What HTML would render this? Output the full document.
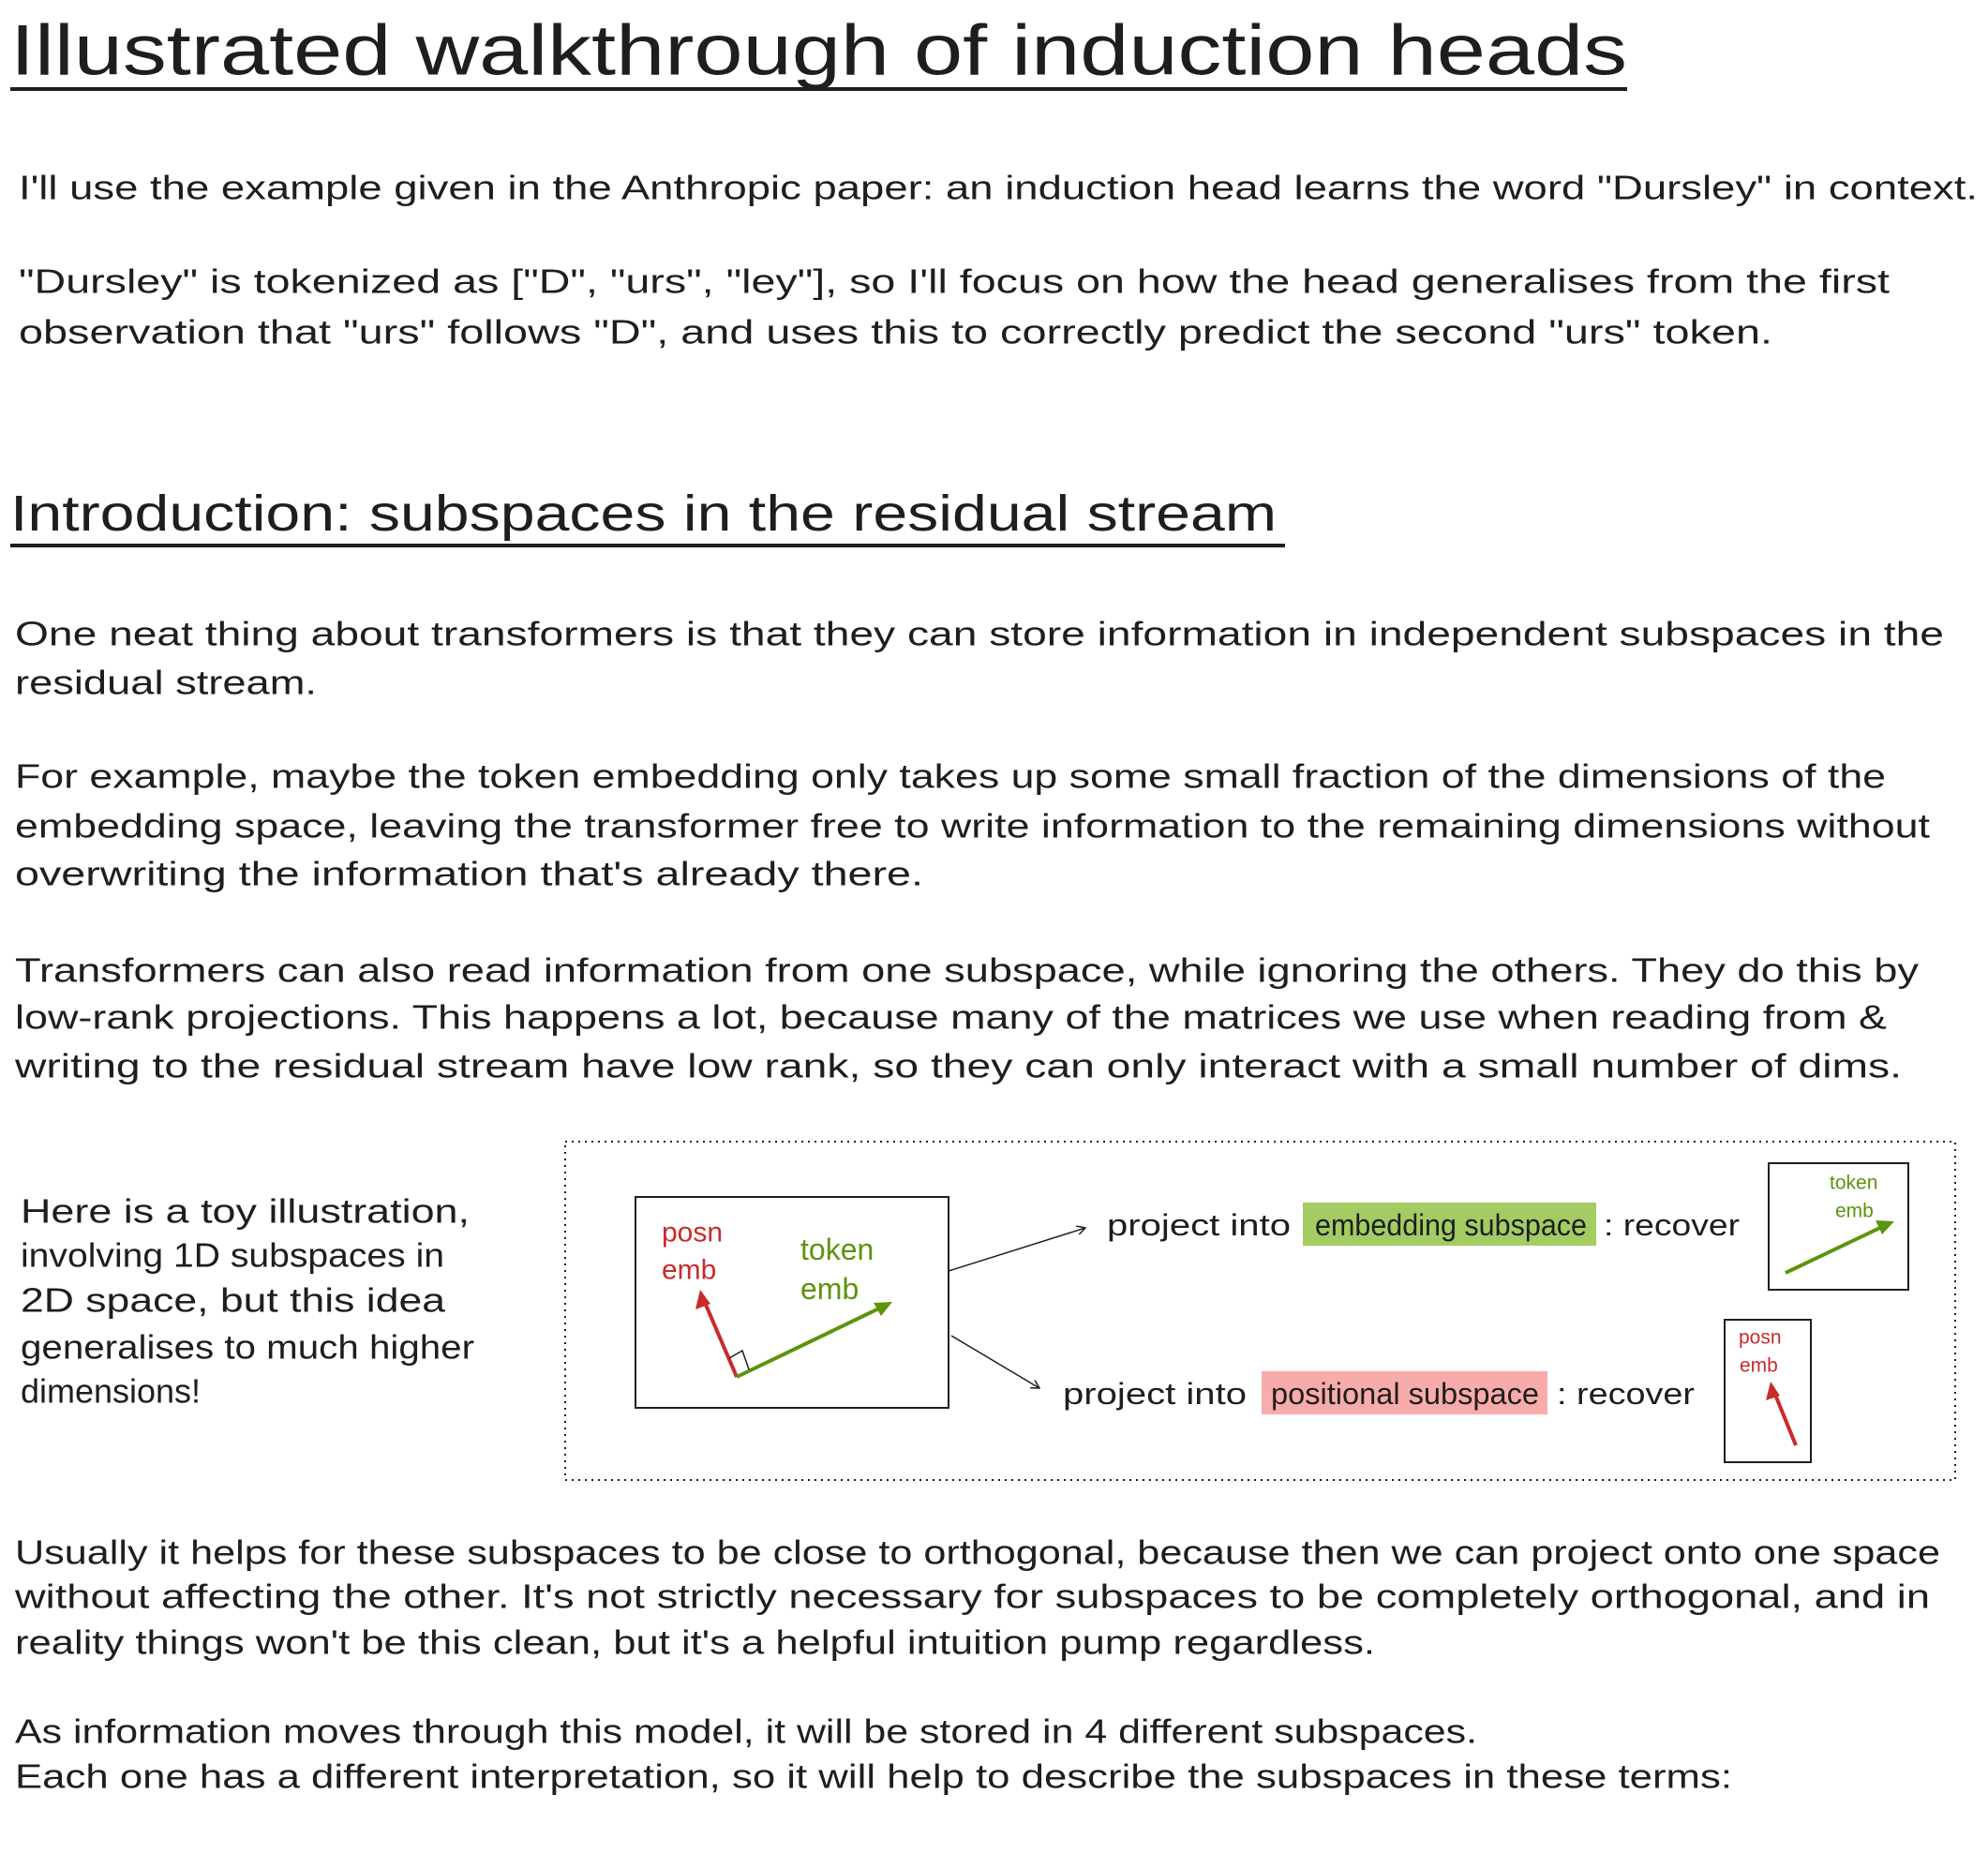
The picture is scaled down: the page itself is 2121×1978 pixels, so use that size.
<!DOCTYPE html>
<html><head><meta charset="utf-8"><style>
html,body{margin:0;padding:0;background:#fff;}
svg{display:block;}
text{font-family:"Liberation Sans",sans-serif;fill:#1e1e1e;dominant-baseline:central;}
.b{font-size:36px;}
</style></head><body>
<svg width="2121" height="1978" viewBox="0 0 2121 1978" xmlns="http://www.w3.org/2000/svg">
<defs>
<marker id="ah" markerWidth="10" markerHeight="10" refX="9" refY="5" orient="auto" markerUnits="userSpaceOnUse"><path d="M0,0 L9,5 L0,10" fill="none" stroke="#1e1e1e" stroke-width="1.5"/></marker>
</defs>
<text x="11" y="54" font-size="76" textLength="1725" lengthAdjust="spacingAndGlyphs">Illustrated walkthrough of induction heads</text>
<line x1="11" y1="95" x2="1736" y2="95" stroke="#1e1e1e" stroke-width="4"/>
<g class="b">
<text x="20" y="200" textLength="2090" lengthAdjust="spacingAndGlyphs">I'll use the example given in the Anthropic paper: an induction head learns the word "Dursley" in context.</text>
<text x="20" y="300" textLength="1996" lengthAdjust="spacingAndGlyphs">"Dursley" is tokenized as ["D", "urs", "ley"], so I'll focus on how the head generalises from the first</text>
<text x="20" y="354" textLength="1871" lengthAdjust="spacingAndGlyphs">observation that "urs" follows "D", and uses this to correctly predict the second "urs" token.</text>
</g>
<text x="11" y="548" font-size="54" textLength="1351" lengthAdjust="spacingAndGlyphs">Introduction: subspaces in the residual stream</text>
<line x1="11" y1="582" x2="1371" y2="582" stroke="#1e1e1e" stroke-width="4"/>
<g class="b">
<text x="16" y="676" textLength="2058" lengthAdjust="spacingAndGlyphs">One neat thing about transformers is that they can store information in independent subspaces in the</text>
<text x="16" y="728" textLength="322" lengthAdjust="spacingAndGlyphs">residual stream.</text>
<text x="16" y="828" textLength="1996" lengthAdjust="spacingAndGlyphs">For example, maybe the token embedding only takes up some small fraction of the dimensions of the</text>
<text x="16" y="881" textLength="2043" lengthAdjust="spacingAndGlyphs">embedding space, leaving the transformer free to write information to the remaining dimensions without</text>
<text x="16" y="932" textLength="969" lengthAdjust="spacingAndGlyphs">overwriting the information that's already there.</text>
<text x="16" y="1035" textLength="2031" lengthAdjust="spacingAndGlyphs">Transformers can also read information from one subspace, while ignoring the others. They do this by</text>
<text x="16" y="1085" textLength="1997" lengthAdjust="spacingAndGlyphs">low-rank projections. This happens a lot, because many of the matrices we use when reading from &amp;</text>
<text x="16" y="1137" textLength="2013" lengthAdjust="spacingAndGlyphs">writing to the residual stream have low rank, so they can only interact with a small number of dims.</text>
<text x="22" y="1292" textLength="479" lengthAdjust="spacingAndGlyphs">Here is a toy illustration,</text>
<text x="22" y="1339" textLength="452" lengthAdjust="spacingAndGlyphs">involving 1D subspaces in</text>
<text x="22" y="1387" textLength="453" lengthAdjust="spacingAndGlyphs">2D space, but this idea</text>
<text x="22" y="1437" textLength="484" lengthAdjust="spacingAndGlyphs">generalises to much higher</text>
<text x="22" y="1484" textLength="192" lengthAdjust="spacingAndGlyphs">dimensions!</text>
</g>
<rect x="603" y="1218" width="1483" height="361" fill="none" stroke="#1e1e1e" stroke-width="2" stroke-dasharray="2,5"/>
<rect x="678" y="1277" width="334" height="225" fill="none" stroke="#1e1e1e" stroke-width="2"/>
<text x="706" y="1315" font-size="30" fill="#c92a2a" style="fill:#c92a2a">posn</text>
<text x="706" y="1355" font-size="30" style="fill:#c92a2a">emb</text>
<text x="854" y="1333" font-size="32" style="fill:#5c940d">token</text>
<text x="854" y="1375" font-size="32" style="fill:#5c940d">emb</text>
<line x1="786" y1="1469" x2="750" y2="1385" stroke="#c92a2a" stroke-width="4"/>
<polygon points="747,1376 742,1397 758,1391" fill="#c92a2a"/>
<line x1="786" y1="1469" x2="944" y2="1393" stroke="#5c940d" stroke-width="4"/>
<polygon points="952,1389 932,1390 940,1404" fill="#5c940d"/>
<path d="M778,1449 L792,1441 L799,1461" fill="none" stroke="#1e1e1e" stroke-width="1.5"/>
<line x1="1012" y1="1356" x2="1158" y2="1310" stroke="#1e1e1e" stroke-width="1.5" marker-end="url(#ah)"/>
<line x1="1015" y1="1425" x2="1109" y2="1481" stroke="#1e1e1e" stroke-width="1.5" marker-end="url(#ah)"/>
<rect x="1390" y="1283" width="313" height="46" fill="#a3cc63"/>
<g class="b" style="font-size:32px">
<text x="1181" y="1307" textLength="196" lengthAdjust="spacingAndGlyphs">project into</text>
<text x="1403" y="1307" textLength="290" lengthAdjust="spacingAndGlyphs">embedding subspace</text>
<text x="1711" y="1307" textLength="145" lengthAdjust="spacingAndGlyphs">: recover</text>
</g>
<rect x="1346" y="1463" width="305" height="46" fill="#f8abab"/>
<g class="b" style="font-size:32px">
<text x="1134" y="1487" textLength="196" lengthAdjust="spacingAndGlyphs">project into</text>
<text x="1356" y="1487" textLength="286" lengthAdjust="spacingAndGlyphs">positional subspace</text>
<text x="1661" y="1487" textLength="147" lengthAdjust="spacingAndGlyphs">: recover</text>
</g>
<rect x="1887" y="1241" width="149" height="135" fill="none" stroke="#1e1e1e" stroke-width="2"/>
<text x="1952" y="1262" font-size="21" style="fill:#5c940d">token</text>
<text x="1958" y="1292" font-size="21" style="fill:#5c940d">emb</text>
<line x1="1905" y1="1358" x2="2012" y2="1307" stroke="#5c940d" stroke-width="4"/>
<polygon points="2021,1303 2001,1302 2008,1317" fill="#5c940d"/>
<rect x="1840" y="1408" width="92" height="152" fill="none" stroke="#1e1e1e" stroke-width="2"/>
<text x="1855" y="1427" font-size="21" style="fill:#c92a2a">posn</text>
<text x="1856" y="1457" font-size="21" style="fill:#c92a2a">emb</text>
<line x1="1916" y1="1542" x2="1892" y2="1483" stroke="#c92a2a" stroke-width="4"/>
<polygon points="1889,1474 1884,1494 1899,1489" fill="#c92a2a"/>
<g class="b">
<text x="16" y="1656" textLength="2054" lengthAdjust="spacingAndGlyphs">Usually it helps for these subspaces to be close to orthogonal, because then we can project onto one space</text>
<text x="16" y="1703" textLength="2043" lengthAdjust="spacingAndGlyphs">without affecting the other. It's not strictly necessary for subspaces to be completely orthogonal, and in</text>
<text x="16" y="1752" textLength="1451" lengthAdjust="spacingAndGlyphs">reality things won't be this clean, but it's a helpful intuition pump regardless.</text>
<text x="16" y="1847" textLength="1560" lengthAdjust="spacingAndGlyphs">As information moves through this model, it will be stored in 4 different subspaces.</text>
<text x="16" y="1895" textLength="1832" lengthAdjust="spacingAndGlyphs">Each one has a different interpretation, so it will help to describe the subspaces in these terms:</text>
</g>
</svg>
</body></html>
